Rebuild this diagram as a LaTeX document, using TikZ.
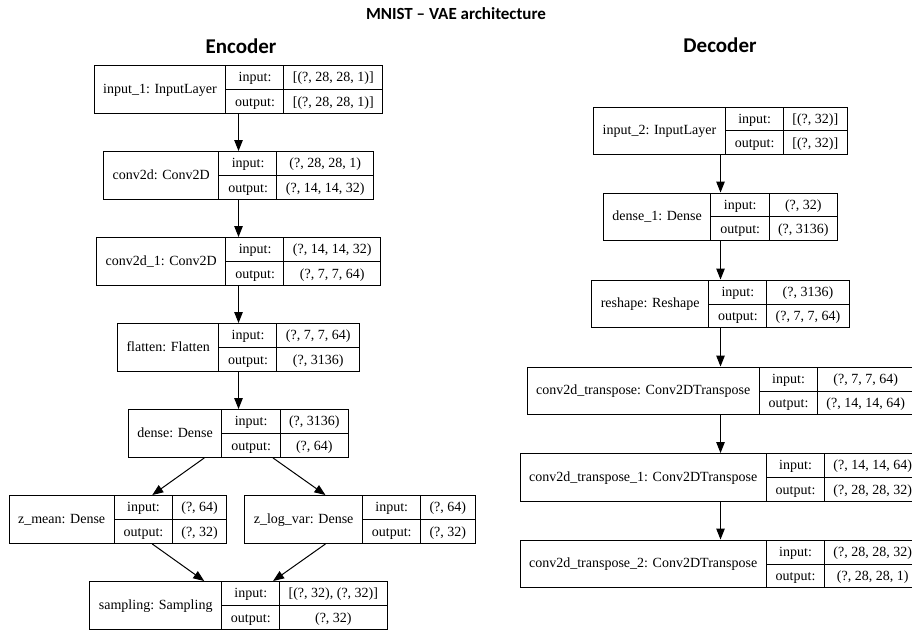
\documentclass[tikz,border=0pt]{standalone}
\usepackage{fontspec}
\setmainfont{Liberation Serif}
\newfontfamily\lyrfont{Liberation Serif}
\newfontfamily\headfont{Carlito}
\usetikzlibrary{arrows.meta}
\renewcommand\arraystretch{1.38}
\setlength\tabcolsep{9bp}
\setlength\arrayrulewidth{1bp}
\newcommand\lyrtab[3]{\begin{tabular}{c|@{}c@{}}#1&\begin{tabular}{c|c}input:&#2\\\hline output:&#3\end{tabular}\end{tabular}}
\tikzset{
 layer/.style={draw,line width=1bp,inner sep=0pt,font=\lyrfont\fontsize{14bp}{17bp}\selectfont},
 edge/.style={-{Triangle[length=11bp,width=8.5bp]},line width=1bp},
 head/.style={font=\headfont\bfseries\fontsize{17bp}{20bp}\selectfont},
 subhead/.style={font=\headfont\bfseries\fontsize{21bp}{24bp}\selectfont}
}
\begin{document}
\begin{tikzpicture}[x=1bp,y=-1bp]
\useasboundingbox (0,0) rectangle (912,630);
\def\lyr#1#2#3#4#5#6{
\node [layer] (#1) at (#2,#3) {\lyrtab{#4}{#5}{#6}};
}
% titles
\node [head] (title) at (456,14) {MNIST – VAE architecture};
\node [subhead] (enc) at (241,46) {Encoder};
\node [subhead] (dec) at (720,45) {Decoder};
% encoder
\lyr{in1}{238.5}{89.5}{input\_1: InputLayer}{[(?, 28, 28, 1)]}{[(?, 28, 28, 1)]}
\lyr{conv}{238.5}{175.5}{conv2d: Conv2D}{(?, 28, 28, 1)}{(?, 14, 14, 32)}
\lyr{conv1}{238.5}{261.5}{conv2d\_1: Conv2D}{(?, 14, 14, 32)}{(?, 7, 7, 64)}
\lyr{flat}{238.5}{347.5}{flatten: Flatten}{(?, 7, 7, 64)}{(?, 3136)}
\lyr{dense}{238.5}{433.5}{dense: Dense}{(?, 3136)}{(?, 64)}
\lyr{zmean}{118}{519.5}{z\_mean: Dense}{(?, 64)}{(?, 32)}
\lyr{zlogvar}{360}{519.5}{z\_log\_var: Dense}{(?, 64)}{(?, 32)}
\lyr{samp}{238.5}{605.5}{sampling: Sampling}{[(?, 32), (?, 32)]}{(?, 32)}
% decoder
\lyr{in2}{720.5}{131}{input\_2: InputLayer}{[(?, 32)]}{[(?, 32)]}
\lyr{dense1}{720.5}{217}{dense\_1: Dense}{(?, 32)}{(?, 3136)}
\lyr{reshape}{720.5}{304}{reshape: Reshape}{(?, 3136)}{(?, 7, 7, 64)}
\lyr{convt}{720.5}{391}{conv2d\_transpose: Conv2DTranspose}{(?, 7, 7, 64)}{(?, 14, 14, 64)}
\lyr{convt1}{720.5}{477.5}{conv2d\_transpose\_1: Conv2DTranspose}{(?, 14, 14, 64)}{(?, 28, 28, 32)}
\lyr{convt2}{720.5}{564}{conv2d\_transpose\_2: Conv2DTranspose}{(?, 28, 28, 32)}{(?, 28, 28, 1)}
% connections
\draw [edge] (in1) -- (conv);
\draw [edge] (conv) -- (conv1);
\draw [edge] (conv1) -- (flat);
\draw [edge] (flat) -- (dense);
\draw [edge] (dense) -- (zmean);
\draw [edge] (dense) -- (zlogvar);
\draw [edge] (zmean) -- (samp);
\draw [edge] (zlogvar) -- (samp);
\draw [edge] (in2) -- (dense1);
\draw [edge] (dense1) -- (reshape);
\draw [edge] (reshape) -- (convt);
\draw [edge] (convt) -- (convt1);
\draw [edge] (convt1) -- (convt2);
\end{tikzpicture}
\end{document}
